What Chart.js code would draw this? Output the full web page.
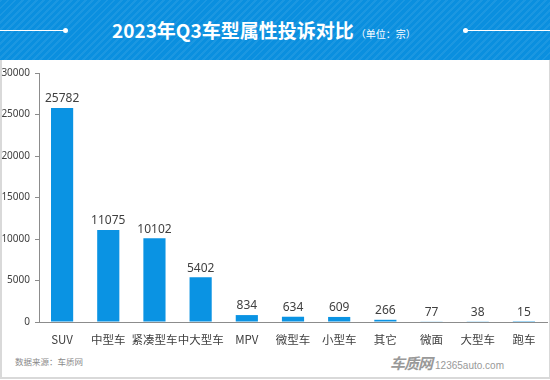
<!DOCTYPE html>
<html><head><meta charset="utf-8">
<script src="https://cdn.jsdelivr.net/npm/chart.js@4/dist/chart.umd.min.js"></script>
<style>
html,body{margin:0;padding:0;background:#fff;}
#wrap{position:relative;width:550px;height:380px;overflow:hidden;font-family:"Noto Sans CJK SC","Noto Sans",sans-serif;}
#frame{position:absolute;left:0;top:59px;width:547px;height:318px;border:2px solid #d9d9d9;border-top:none;}
#head{position:absolute;left:0;top:0;width:550px;height:60px;background:#0a8fdf;
 background-image:repeating-linear-gradient(135deg,rgba(255,255,255,0.07) 0 2px,rgba(255,255,255,0) 2px 5px);}
#title{position:absolute;left:112px;top:0;height:60px;line-height:59px;color:#fff;font-weight:bold;font-size:19px;white-space:nowrap;}
#title span{font-size:10px;font-weight:normal;margin-left:2px;}
.ln{position:absolute;top:30px;height:1px;background:#fff;}
.dot{position:absolute;top:28px;width:5px;height:5px;border-radius:50%;background:#fff;}
#src{position:absolute;left:15px;top:355px;font-size:8.5px;color:#8a8a8a;}
#logo{position:absolute;left:390px;top:350px;color:#999;white-space:nowrap;}
#logo b{font-size:15px;font-style:italic;letter-spacing:-1px;}
#logo span{font-size:10px;margin-left:3px;font-family:"Liberation Sans",sans-serif;}
canvas{position:absolute;left:0;top:0;}
</style></head>
<body><div id="wrap">
<div id="frame"></div>
<div id="head"></div>
<div class="ln" style="left:0;width:65px"></div><div class="dot" style="left:63px"></div>
<div class="ln" style="left:466px;width:84px"></div><div class="dot" style="left:463px"></div>
<div id="title">2023年Q3车型属性投诉对比<span>（单位：宗）</span></div>
<div id="src">数据来源：车质网</div>
<div id="logo"><b>车质网</b><span>12365auto.com</span></div>
<canvas id="c" width="550" height="380"></canvas>
</div>
<script>
const categories = ["SUV","中型车","紧凑型车","中大型车","MPV","微型车","小型车","其它","微面","大型车","跑车"];
const complaints = [25782,11075,10102,5402,834,634,609,266,77,38,15];
const yTicks = [0,5000,10000,15000,20000,25000,30000];

const labelPlugin = {
  id:'vals',
  afterDatasetsDraw(chart){
    const ctx = chart.ctx;
    const meta = chart.getDatasetMeta(0);
    ctx.save();
    ctx.font = '12px "Noto Sans","Noto Sans CJK SC",sans-serif';
    ctx.fillStyle = '#404040';
    ctx.textAlign = 'center';
    ctx.textBaseline = 'bottom';
    meta.data.forEach((b,i)=>{
      ctx.fillText(String(complaints[i]), b.x, b.y - 3);
    });
    ctx.restore();
  }
};

new Chart(document.getElementById('c'),{
  type:'bar',
  data:{labels:categories,datasets:[{data:complaints,backgroundColor:'#0a93e3',barPercentage:0.48,categoryPercentage:1}]},
  options:{
    responsive:false,animation:false,
    layout:{padding:{top:73,right:3,left:0,bottom:0}},
    plugins:{legend:{display:false},tooltip:{enabled:false}},
    scales:{
      x:{
        grid:{display:false},
        border:{display:true,color:'#8c8c8c',width:1},
        ticks:{color:'#404040',font:{size:11.5,family:'"Noto Sans CJK SC","Noto Sans",sans-serif'},padding:3,maxRotation:0,autoSkip:false},
        afterFit(s){s.height=58;}
      },
      y:{
        min:0,max:30000,
        afterBuildTicks(s){s.ticks=yTicks.map(v=>({value:v}));},
        grid:{drawOnChartArea:false,drawTicks:true,tickLength:4,color:'#8c8c8c'},
        border:{display:true,color:'#8c8c8c',width:1},
        ticks:{color:'#404040',font:{size:10,family:'"Noto Sans","Noto Sans CJK SC",sans-serif'},padding:5,callback:v=>String(v)},
        afterFit(s){s.width=39;}
      }
    }
  },
  plugins:[labelPlugin]
});
</script>
</body></html>
